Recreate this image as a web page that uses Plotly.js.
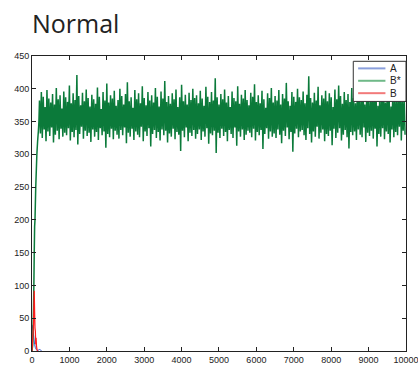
<!DOCTYPE html>
<html>
<head>
<meta charset="utf-8">
<script src="https://cdn.plot.ly/plotly-3.0.1.min.js"></script>
<style>html,body{margin:0;padding:0;background:#fff;}#chart{width:418px;height:370px;}</style>
</head>
<body>
<div id="chart"></div>
<script>
// Series A (early transient)
var tA = [0, 10, 30, 50, 70, 90, 120, 150, 200, 230, 260];
var vA = [40, 38, 30, 20, 10, 5, 2, 0, 3, 1, 0];

// Series B (early transient)
var tB = [0, 20, 40, 50, 60, 70, 80, 90, 100, 110, 120, 130, 150];
var vB = [0, 20, 40, 70, 92, 60, 35, 30, 10, 20, 8, 3, 0];

// Series B* rise phase
var tRise = [0, 20, 40, 50, 60, 70, 80, 100, 115, 130, 150, 170, 185];
var vRise = [0, 10, 65, 100, 150, 190, 200, 250, 275, 300, 320, 335, 350];

// Series B* steady phase: read as alternating local highs / lows, starting t=200, every 25
var bandStart = 200;
var bandStep = 25;
var bandHigh = [
382,395,388,372,398,385,379,392,376,401,384,390,370,396,
387,380,405,378,393,383,421,389,375,394,381,399,386,373,
391,384,377,402,388,369,395,382,408,379,390,385,397,374,
383,400,389,376,392,410,381,387,371,398,384,393,378,404,
386,375,395,382,390,379,401,388,373,396,385,412,380,389,
377,393,384,399,372,387,406,381,391,376,394,383,400,386,
390,378,397,385,374,403,388,380,395,382,416,387,376,392,
384,399,379,389,372,396,386,381,404,377,391,385,398,383,
375,394,388,407,380,390,378,397,384,371,393,386,401,379,
389,382,398,376,392,385,409,381,374,395,388,380,400,387,
383,396,378,391,419,386,379,394,382,403,375,390,385,397,
381,393,387,372,399,384,405,389,377,395,383,392,380,401,
386,378,397,390,383,410,376,394,388,381,399,385,392,374,
390,384,402,379,395,387,373,398,382,391,386,404,380,393
];
var bandLow = [
332,325,338,320,335,328,341,318,330,336,323,339,327,333,
329,340,321,334,326,337,315,331,342,324,336,328,333,319,
338,327,334,322,340,329,335,310,331,326,339,323,336,330,
324,337,329,341,317,333,327,339,322,335,330,326,342,320,
335,328,340,312,331,337,325,334,321,338,329,336,318,332,
327,339,323,334,330,305,336,326,341,320,333,328,337,324,
331,338,322,335,327,340,316,332,329,336,302,333,325,339,
328,334,320,337,331,325,341,313,335,327,338,322,330,336,
333,326,339,321,334,329,337,308,331,340,324,335,327,332,
325,338,330,317,336,328,341,323,334,304,332,339,326,335,
337,329,322,340,331,318,335,327,342,324,333,338,320,331,
328,336,314,339,325,333,340,321,330,337,326,309,334,329,
335,322,338,330,326,341,319,333,328,336,324,339,312,331,
327,340,323,335,331,318,338,326,334,329,342,321,336,330
];

var seriesNames = ['A', 'B*', 'B'];
var colors = ['#3a5fcd', '#0b7a3a', '#ff1a1a'];
var legendColors = ['#8a9fdc', '#6fb988', '#f27a7a'];
var xTicks = [0,1000,2000,3000,4000,5000,6000,7000,8000,9000,10000];
var yTicks = [0,50,100,150,200,250,300,350,400,450];

var tBs = tRise.slice(), vBs = vRise.slice();
for (var i = 0; i < bandHigh.length; i++) {
  tBs.push(bandStart + (2 * i) * bandStep); vBs.push(bandHigh[i]);
  tBs.push(bandStart + (2 * i + 1) * bandStep); vBs.push(bandLow[i]);
}

var traces = [
  {x: tA, y: vA, name: seriesNames[0], type: 'scatter', mode: 'lines', line: {color: colors[0], width: 1, simplify: false}},
  {x: tBs, y: vBs, name: seriesNames[1], type: 'scatter', mode: 'lines', line: {color: colors[1], width: 1.5, simplify: false}},
  {x: tB, y: vB, name: seriesNames[2], type: 'scatter', mode: 'lines', line: {color: colors[2], width: 1.2, simplify: false}}
];

var axisCommon = {
  showgrid: false, zeroline: false, showline: true, linecolor: '#222', linewidth: 1,
  mirror: 'ticks', ticks: 'inside', ticklen: 4, tickcolor: '#222', tickwidth: 1,
  tickfont: {family: 'Liberation Sans, Arial, sans-serif', size: 9, color: '#222'},
  tickmode: 'array', ticklabeloverflow: 'allow'
};

// Compact legend box (drawn as shapes + text, paper coordinates)
var legX0 = 0.859, legX1 = 1.0, legY0 = 0.846, legY1 = 0.982;
var legRows = [0.958, 0.916, 0.874];
var legLineX0 = 0.872, legLineX1 = 0.945, legTextX = 0.952;
var shapes = [{type: 'rect', xref: 'paper', yref: 'paper', x0: legX0, x1: legX1, y0: legY0, y1: legY1,
               line: {color: '#333', width: 1}, fillcolor: '#fff', layer: 'above'}];
var annotations = [];
for (var k = 0; k < seriesNames.length; k++) {
  shapes.push({type: 'line', xref: 'paper', yref: 'paper', x0: legLineX0, x1: legLineX1,
               y0: legRows[k], y1: legRows[k], line: {color: legendColors[k], width: 2}, layer: 'above'});
  annotations.push({xref: 'paper', yref: 'paper', x: legTextX, y: legRows[k], xanchor: 'left', yanchor: 'middle',
                    text: seriesNames[k], showarrow: false,
                    font: {family: 'Liberation Sans, Arial, sans-serif', size: 10, color: '#222'}});
}

var layout = {
  width: 418, height: 370,
  margin: {l: 32, r: 12, t: 56, b: 19},
  paper_bgcolor: '#fff', plot_bgcolor: '#fff',
  title: {text: 'Normal', x: 32/418, xref: 'container', xanchor: 'left',
          y: 1 - 24/370, yref: 'container', yanchor: 'middle',
          font: {family: 'Open Sans, sans-serif', size: 25, color: '#222'}},
  xaxis: Object.assign({}, axisCommon, {range: [0, 10000.5], tickvals: xTicks, ticktext: xTicks.map(String)}),
  yaxis: Object.assign({}, axisCommon, {range: [0, 450.02], tickvals: yTicks, ticktext: yTicks.map(String)}),
  showlegend: false,
  shapes: shapes,
  annotations: annotations
};

Plotly.newPlot('chart', traces, layout, {staticPlot: true, displayModeBar: false});
</script>
</body>
</html>
